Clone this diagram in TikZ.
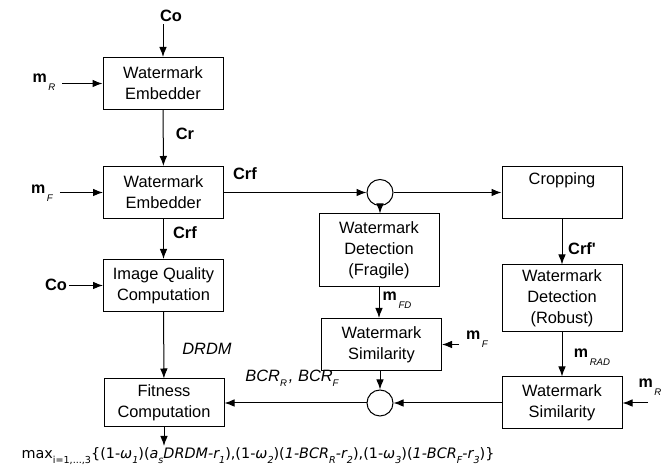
\documentclass[tikz,border=0pt]{standalone}
\usepackage{fontspec}
\setmainfont{Liberation Sans}
\newfontfamily\formfont{DejaVu Sans}
\usetikzlibrary{arrows.meta,positioning}
\newcommand{\msub}[2]{{\fontsize{8}{8}\selectfont\bfseries #1}\raisebox{-0.8ex}{\fontsize{4.8}{5}\selectfont\itshape\,#2}}
\newcommand{\fsub}[1]{\raisebox{-0.6ex}{\fontsize{4.8}{5}\selectfont #1}}

\begin{document}
\begin{tikzpicture}[x=0.5pt,y=-0.5pt,
  blk/.style={draw, line width=0.5pt, minimum width=60pt, minimum height=26pt, align=center, font=\fontsize{8.2}{10.5}\selectfont, inner sep=1pt},
  sum/.style={draw, circle, line width=0.5pt, minimum size=13pt, inner sep=0pt},
  arr/.style={line width=0.5pt, -{Latex[length=5pt,width=3.8pt]}},
  lbl/.style={font=\fontsize{8.2}{10}\selectfont\bfseries, inner sep=1pt},
  vlbl/.style={font=\fontsize{8.2}{10}\selectfont\itshape, inner sep=1pt},
]
\useasboundingbox (0,0) rectangle (666,470);
% blocks
\node[blk] (emb1) at (163,83.5) {Watermark\\Embedder};
\node[blk] (emb2) at (163.5,192.5) {Watermark\\Embedder};
\node[blk] (iqc) at (163.5,285.5) {Image Quality\\Computation};
\node[blk, minimum height=24pt] (fit) at (164,403) {Fitness\\Computation};
\node[sum] (sum1) at (380,192.5) {};
\node[blk] (crop) at (562,192.5) {Cropping\\\strut};
\node[blk, minimum height=36.5pt] (detF) at (379,250.5) {Watermark\\Detection\\(Fragile)};
\node[blk] (simF) at (381.5,344.5) {Watermark\\Similarity};
\node[sum] (sum2) at (380,403) {};
\node[blk, minimum height=33.5pt] (detR) at (562,298.5) {Watermark\\Detection\\(Robust)};
\node[blk] (simR) at (562,403) {Watermark\\Similarity};
% labels
\node[lbl] (co1) at (171,16) {Co};
\node (mR1) at (44,82) {\msub{m}{R}};
\node[lbl] (cr) at (185,134) {Cr};
\node (mF1) at (42,193) {\msub{m}{F}};
\node[lbl] (crf1) at (245,174) {Crf};
\node[lbl] (crf2) at (185,233) {Crf};
\node[lbl] (co2) at (56,285) {Co};
\node[vlbl] (drdm) at (207,349) {DRDM};
\node[vlbl] (bcr) at (292,378) {BCR\fsub{R}\kern1pt, BCR\fsub{F}};
\node (mFD) at (397,300) {\msub{m}{FD}};
\node (mF2) at (477,339) {\msub{m}{F}};
\node[lbl] (crfp) at (582,249) {Crf\textquotesingle};
\node (mRAD) at (592,357) {\msub{m}{RAD}};
\node (mR2) at (650,387) {\msub{m}{R}};
\coordinate (mR2in) at (648,403);
\coordinate (fitout) at (164,446);
\node[font=\formfont\fontsize{7.2}{8}\selectfont, inner sep=0pt] (obj) at (258,456)
  {max\fsub{i=1,...,3}\{(1-\textit{ω\fsub{1}})(\textit{a\fsub{s}DRDM-r\fsub{1}}),(1-\textit{ω\fsub{2}})(\textit{1-BCR\fsub{R}-r\fsub{2}}),(1-\textit{ω\fsub{3}})(\textit{1-BCR\fsub{F}-r\fsub{3}})\}};
% connectors
\draw[arr] (co1.south -| emb1.north) -- (emb1.north);
\draw[arr] (mR1.east |- emb1.west) -- (emb1.west);
\draw[arr] (emb1) -- (emb2);
\draw[arr] (mF1.east |- emb2.west) -- (emb2.west);
\draw[arr] (emb2.east) -- (sum1.west);
\draw[arr] (emb2) -- (iqc);
\draw[arr] (co2.east |- iqc.west) -- (iqc.west);
\draw[arr] (iqc) -- (fit);
\draw[arr] (fit) -- (fitout);
\draw[arr] (sum1.east) -- (crop.west);
\draw[arr] (sum1.south) -- (sum1.south |- detF.north);
\draw[arr] (detF.south) -- (detF.south |- simF.north);
\draw[arr] (mF2.west |- simF.east) -- (simF.east);
\draw[arr] (simF.south -| sum2) -- (sum2.north);
\draw[arr] (simR.west) -- (sum2.east);
\draw[arr] (sum2.west) -- (fit.east);
\draw[arr] (crop) -- (detR);
\draw[arr] (detR) -- (simR);
\draw[arr] (mR2in) -- (simR.east);
\end{tikzpicture}
\end{document}
